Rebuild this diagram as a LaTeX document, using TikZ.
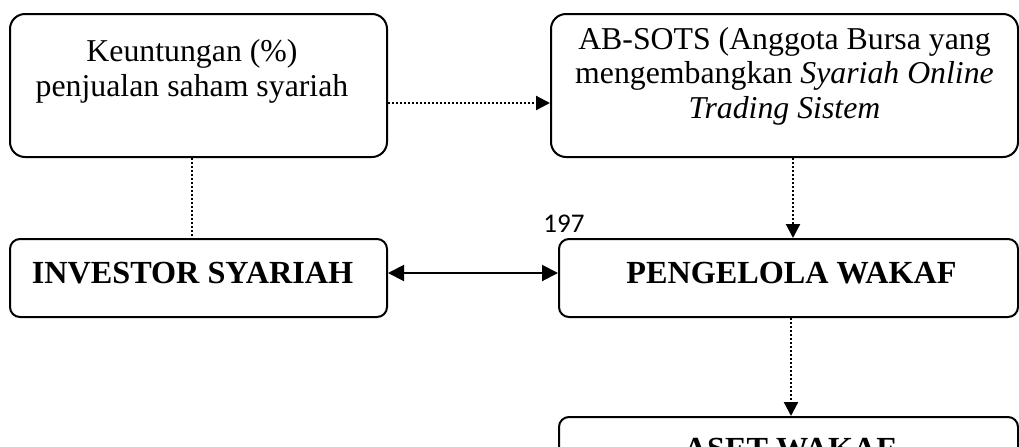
\documentclass[tikz,border=0pt]{standalone}
\usepackage{fontspec}
\setmainfont{Liberation Serif}
\newfontfamily\calibri{Carlito}
\usetikzlibrary{arrows.meta}

\begin{document}
\begin{tikzpicture}[x=0.5pt,y=-0.5pt]
      \clip (0,0) rectangle (1019,446);
      \begin{scope}[every node/.style={draw,line width=1pt,inner sep=0pt}]
        \node (keuntungan)[rounded corners=7.5pt,minimum width=188.5pt,minimum height=71.5pt] at (198.5,85.5) {};
        \node (absots)[rounded corners=7.5pt,minimum width=233.5pt,minimum height=71.5pt] at (784.5,85.5) {};
        \node (investor)[rounded corners=5pt,minimum width=188.5pt,minimum height=39pt] at (198.5,278) {};
        \node (pengelola)[rounded corners=5pt,minimum width=229.5pt,minimum height=39pt] at (788.5,278) {};
        \node (aset)[rounded corners=5pt,minimum width=229.5pt,minimum height=39pt] at (788.5,456) {};
      \end{scope}
      \begin{scope}[every node/.style={align=center,inner sep=0pt,anchor=base,
          font=\fontsize{15.9}{17.3}\selectfont}]
        \node (keuntungan-txt) at (192,96.5) {Keuntungan (\%)\\penjualan saham syariah};
        \node (absots-txt) at (784.5,118.5) {AB-SOTS (Anggota Bursa yang\\mengembangkan \textit{Syariah Online}\\\textit{Trading Sistem}};
      \end{scope}
      \begin{scope}[every node/.style={inner sep=0pt,anchor=base,
          font=\fontsize{16.1}{19}\selectfont\bfseries}]
        \node (investor-txt) at (192.5,283) {INVESTOR SYARIAH};
        \node (pengelola-txt) at (791.5,283) {PENGELOLA WAKAF};
        \node (aset-txt) at (790,459) {ASET WAKAF};
      \end{scope}
      \node (halaman)[inner sep=0pt,anchor=base west,font=\calibri\fontsize{13.5}{16}\selectfont] at (543,232) {197};
      % titik sambung
      \coordinate (kout) at ([yshift=-8.75pt]keuntungan.east);
      \coordinate (kdown) at ([xshift=-3.25pt]keuntungan.south);
      \coordinate (abdown) at ([xshift=4.25pt]absots.south);
      \coordinate (invout) at ([yshift=2.5pt]investor.east);
      \coordinate (pkdown) at ([xshift=1.25pt]pengelola.south);
      \begin{scope}
        [every edge/.style={draw=black,line width=1.1pt,dash pattern=on 1.1pt off 0.9pt}]
        \path (kout) edge[-{Triangle[length=7pt,width=7pt]}] (kout -| absots.west);
        \path (kdown) edge (kdown |- investor.north);
        \path (abdown) edge[-{Triangle[length=7pt,width=7pt]}] (abdown |- pengelola.north);
        \path (pkdown) edge[-{Triangle[length=7pt,width=7pt]}] (pkdown |- aset.north);
        \path (invout) edge[solid,line width=1pt,{Triangle[length=8pt,width=8pt]}-{Triangle[length=8pt,width=8pt]}] (invout -| pengelola.west);
      \end{scope}
    \end{tikzpicture}
\end{document}
